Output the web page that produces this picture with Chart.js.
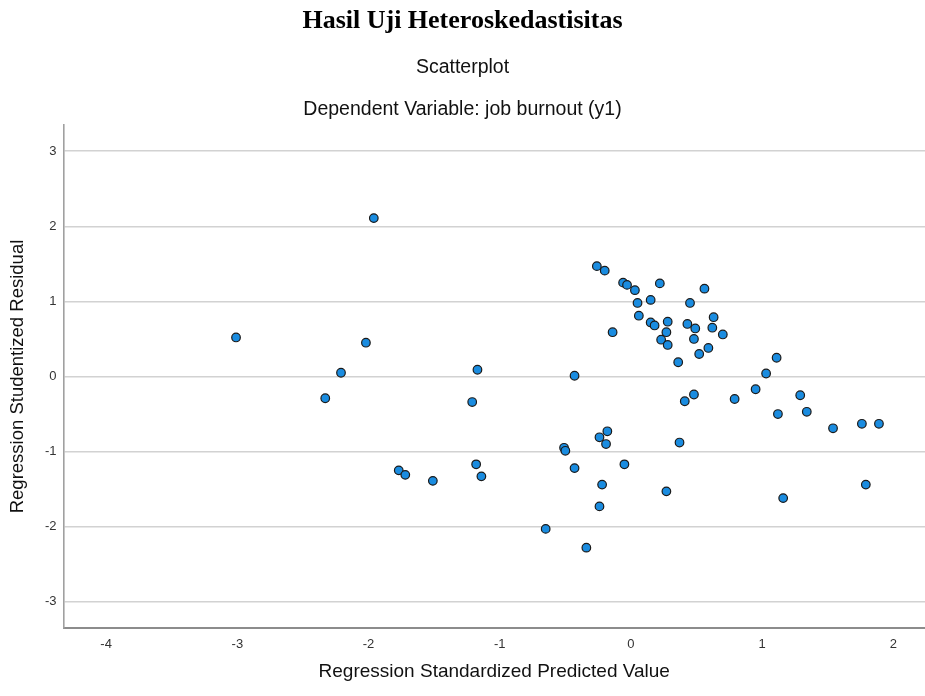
<!DOCTYPE html>
<html>
<head>
	<meta charset="utf-8">
	<title>Hasil Uji Heteroskedastisitas</title>
	<script src="https://cdn.jsdelivr.net/npm/chart.js@4.4.1/dist/chart.umd.min.js"></script>
	<style>
		html, body {
			margin: 0;
			padding: 0;
			background: white;
		}
		canvas {
			display: block;
		}
	</style>
</head>
<body>
<canvas id="myChart" width="925" height="696"></canvas>
<script>
	const predicted = [
		-1.96, -3.01, -2.02, -2.21, -2.33, -1.17, -1.21, -1.18, -1.14, -1.77,
		-1.72, -1.51, 0.41, 0.79, -0.18, -0.24, -0.19, -0.51, -0.50, 0.37,
		-0.43, -0.05, -0.22, 0.27, -0.24, -0.65, -0.34, -0.26, -0.20, -0.06,
		-0.03, 0.03, 0.22, 0.56, 0.05, 0.15, 0.45, 0.06, 0.15, 0.18,
		0.28, 0.43, 0.49, 0.63, 0.62, 0.70, -0.14, 0.27, 0.23, 0.28,
		0.48, 0.59, 0.52, 0.36, 1.11, 1.03, 0.95, 0.48, 1.29, 1.12,
		1.34, 1.54, 1.76, 1.89, -0.43, 1.16, 1.79
	];
	const residual = [
		2.11, 0.52, 0.45, 0.05, -0.29, 0.09, -0.34, -1.17, -1.33, -1.25,
		-1.31, -1.39, -0.33, -0.30, -0.73, -0.81, -0.90, -0.95, -0.99, -0.88,
		-1.22, -1.17, -1.44, -1.53, -1.73, -2.03, -2.28, 1.47, 1.41, 1.25,
		1.22, 1.15, 1.24, 1.17, 0.98, 1.02, 0.98, 0.81, 0.72, 0.68,
		0.73, 0.70, 0.64, 0.79, 0.65, 0.56, 0.59, 0.59, 0.49, 0.42,
		0.50, 0.38, 0.30, 0.19, 0.25, 0.04, -0.17, -0.24, -0.25, -0.50,
		-0.47, -0.69, -0.63, -0.63, 0.01, -1.62, -1.44
	];
	const xTicks = [-4, -3, -2, -1, 0, 1, 2];
	const yTicks = [-3, -2, -1, 0, 1, 2, 3];

	const points = predicted.map((x, i) => ({x: x, y: residual[i]}));
	const sans = "'Liberation Sans', Arial, sans-serif";
	const tickFont = {family: sans, size: 13};

	function noPadding(s) {
		s.paddingLeft = 0;
		s.paddingRight = 0;
		s.paddingTop = 0;
		s.paddingBottom = 0;
	}

	let ctx = document.getElementById('myChart').getContext('2d');
	let myChart = new Chart(ctx, {
		type: 'scatter',
		data: {
			datasets: [{
				data: points,
				backgroundColor: '#1a8ce0',
				borderColor: '#1b1b1b',
				borderWidth: 1.2,
				pointRadius: 4.3,
				pointHoverRadius: 4.3
			}]
		},
		options: {
			responsive: false,
			animation: false,
			layout: {
				padding: 0,
				autoPadding: false
			},
			plugins: {
				legend: {display: false},
				tooltip: {enabled: false},
				title: {
					display: true,
					text: 'Hasil Uji Heteroskedastisitas',
					color: '#000',
					font: {family: "'Liberation Serif', 'Times New Roman', serif", size: 26, weight: 'bold', lineHeight: 1.2},
					padding: {top: 5.4, bottom: 4}
				},
				subtitle: {
					display: true,
					text: ['Scatterplot', 'Dependent Variable: job burnout (y1)'],
					color: '#111',
					font: {family: sans, size: 19.5, lineHeight: '42px'},
					padding: {top: 6.4, bottom: -6}
				}
			},
			scales: {
				x: {
					type: 'linear',
					min: -4.325,
					max: 2.241,
					afterFit: s => { s.height = 68; noPadding(s) },
					afterBuildTicks: s => { s.ticks = xTicks.map(v => ({value: v})) },
					grid: {display: false, drawTicks: false},
					border: {display: true, color: '#8c8c8c', width: 2},
					ticks: {color: '#333', font: tickFont, padding: 9, maxRotation: 0},
					title: {
						display: true,
						text: 'Regression Standardized Predicted Value',
						color: '#111',
						font: {family: sans, size: 19},
						padding: {top: 0, bottom: 12.6}
					}
				},
				y: {
					type: 'linear',
					min: -3.35,
					max: 3.35,
					afterFit: s => { s.width = 63.5; noPadding(s) },
					afterBuildTicks: s => { s.ticks = yTicks.map(v => ({value: v})) },
					grid: {color: '#d2d2d2', lineWidth: 1.6, drawTicks: false},
					border: {display: true, color: '#a0a0a0', width: 1.6},
					ticks: {color: '#333', font: tickFont, padding: 7},
					title: {
						display: true,
						text: 'Regression Studentized Residual',
						color: '#111',
						font: {family: sans, size: 18.5},
						padding: {top: 6.9, bottom: 0}
					}
				}
			}
		}
	});
</script>
</body>
</html>
